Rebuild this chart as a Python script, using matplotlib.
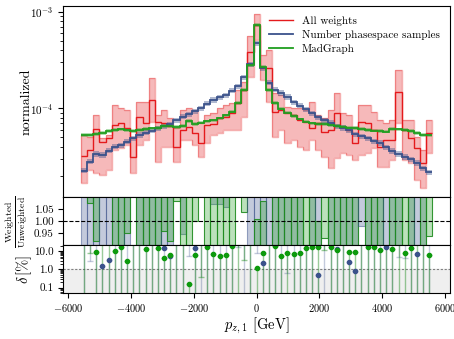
import numpy as np
import matplotlib.pyplot as plt
from matplotlib.ticker import FixedLocator, FormatStrFormatter, NullFormatter

plt.rcParams['font.family'] = 'serif'
plt.rcParams['font.serif'] = ['cmr10']
plt.rcParams['mathtext.fontset'] = 'cm'
plt.rcParams['axes.formatter.use_mathtext'] = True

# binning (57 bins between -5600 and 5600 GeV)
edges = np.linspace(-5600, 5600, 58)
centers = 0.5 * (edges[1:] + edges[:-1])
width = edges[1] - edges[0]

# main panel: normalized distributions
all_weights = [3.21e-5, 3.71e-5, 6.07e-5, 4.51e-5, 4.90e-5, 6.72e-5, 7.00e-5, 6.21e-5, 3.11e-5, 8.19e-5,
               7.00e-5, 1.22e-4, 7.27e-5, 7.00e-5, 6.56e-5, 4.01e-5, 5.97e-5, 6.41e-5, 5.56e-5, 4.38e-5,
               6.72e-5, 6.88e-5, 7.88e-5, 8.19e-5, 8.88e-5, 1.13e-4, 1.55e-4, 3.85e-4, 7.27e-4, 2.59e-4,
               2.59e-4, 9.22e-5, 9.60e-5, 8.88e-5, 8.53e-5, 7.57e-5, 7.27e-5, 6.21e-5, 7.00e-5, 5.73e-5,
               5.97e-5, 8.88e-5, 6.45e-5, 5.97e-5, 4.35e-5, 7.27e-5, 7.00e-5, 5.97e-5, 3.95e-5, 4.70e-5,
               4.70e-5, 1.46e-4, 5.97e-5, 4.90e-5, 3.86e-5, 2.70e-5, 5.60e-5]
all_weights_hi = [5.30e-5, 5.05e-5, 8.53e-5, 4.93e-5, 5.30e-5, 1.08e-4, 1.01e-4, 9.60e-5, 4.93e-5, 1.16e-4,
                  1.16e-4, 2.06e-4, 8.53e-5, 9.60e-5, 7.94e-5, 6.26e-5, 9.60e-5, 1.01e-4, 9.60e-5, 7.05e-5,
                  8.53e-5, 8.94e-5, 1.01e-4, 1.08e-4, 1.13e-4, 1.55e-4, 1.87e-4, 5.59e-4, 9.45e-4, 3.56e-4,
                  4.01e-4, 1.44e-4, 1.37e-4, 1.03e-4, 1.01e-4, 1.01e-4, 9.60e-5, 1.16e-4, 8.53e-5, 7.94e-5,
                  9.60e-5, 1.44e-4, 8.94e-5, 8.53e-5, 6.41e-5, 1.08e-4, 1.08e-4, 9.16e-5, 7.57e-5, 7.05e-5,
                  7.57e-5, 2.49e-4, 7.57e-5, 7.57e-5, 5.05e-5, 3.71e-5, 7.57e-5]
all_weights_lo = [1.70e-5, 2.30e-5, 2.14e-5, 2.04e-5, 2.30e-5, 3.71e-5, 3.89e-5, 4.17e-5, 2.14e-5, 4.17e-5,
                  4.70e-5, 7.22e-5, 2.78e-5, 3.98e-5, 3.98e-5, 2.78e-5, 4.70e-5, 4.70e-5, 4.17e-5, 3.14e-5,
                  4.38e-5, 5.30e-5, 5.56e-5, 5.97e-5, 5.97e-5, 5.97e-5, 8.13e-5, 2.11e-4, 5.09e-4, 1.96e-4,
                  1.16e-4, 5.05e-5, 5.97e-5, 4.38e-5, 4.70e-5, 3.98e-5, 3.71e-5, 4.70e-5, 3.71e-5, 3.14e-5,
                  2.41e-5, 3.06e-5, 3.45e-5, 3.29e-5, 2.92e-5, 3.29e-5, 3.45e-5, 3.89e-5, 2.47e-5, 2.47e-5,
                  2.92e-5, 7.05e-5, 2.92e-5, 2.72e-5, 1.81e-5, 1.50e-5, 3.45e-5]
n_samples = [2.26e-5, 2.80e-5, 3.37e-5, 3.29e-5, 3.64e-5, 4.01e-5, 4.17e-5, 4.51e-5, 4.90e-5, 5.30e-5,
             5.60e-5, 5.87e-5, 6.21e-5, 6.56e-5, 6.88e-5, 7.57e-5, 8.19e-5, 8.73e-5, 9.38e-5, 1.00e-4,
             1.11e-4, 1.22e-4, 1.30e-4, 1.37e-4, 1.52e-4, 1.70e-4, 2.09e-4, 2.87e-4, 4.70e-4, 2.61e-4,
             1.83e-4, 1.55e-4, 1.44e-4, 1.31e-4, 1.16e-4, 1.06e-4, 9.83e-5, 8.94e-5, 8.13e-5, 7.57e-5,
             7.05e-5, 6.56e-5, 6.26e-5, 5.97e-5, 5.42e-5, 5.17e-5, 4.93e-5, 4.59e-5, 4.38e-5, 3.98e-5,
             3.62e-5, 3.37e-5, 3.14e-5, 2.99e-5, 2.72e-5, 2.41e-5, 2.19e-5]
madgraph = [5.30e-5, 5.30e-5, 5.42e-5, 5.56e-5, 5.82e-5, 5.97e-5, 6.04e-5, 5.97e-5, 5.82e-5, 5.97e-5,
            6.11e-5, 6.21e-5, 6.26e-5, 6.56e-5, 6.56e-5, 6.41e-5, 6.56e-5, 7.39e-5, 6.88e-5, 7.10e-5,
            7.30e-5, 7.48e-5, 7.84e-5, 8.43e-5, 9.16e-5, 1.13e-4, 1.55e-4, 2.80e-4, 7.27e-4, 2.67e-4,
            1.55e-4, 1.13e-4, 9.83e-5, 9.01e-5, 8.32e-5, 7.69e-5, 7.27e-5, 7.00e-5, 6.88e-5, 6.88e-5,
            6.72e-5, 6.56e-5, 6.45e-5, 6.30e-5, 6.26e-5, 6.11e-5, 5.97e-5, 5.87e-5, 5.82e-5, 5.73e-5,
            6.11e-5, 6.04e-5, 5.97e-5, 5.82e-5, 5.56e-5, 5.30e-5, 5.30e-5]
rel_unc_samples = 0.06
rel_unc_madgraph = 0.04

# ratio panel: weighted / unweighted bands (nan = no band)
n = np.nan
ratio_blue_lo = [0.8, 0.8, 0.8, 0.8, 0.8, 0.8, 0.8, 0.8, n, 0.8,
                 0.8, 0.8, 0.8, 0.8, 0.8, n, 0.945, n, n, n,
                 n, 1.07, 1.07, 1.06, n, n, n, 0.8, 0.8, 0.8,
                 0.8, 0.8, 0.8, 0.8, 0.8, 0.8, n, 0.8, 0.8, n,
                 0.8, 0.8, 0.8, 0.8, 0.8, 0.98, 0.8, 0.8, 0.8, 0.8,
                 0.8, 0.8, n, 0.8, 0.8, 0.8, n]
ratio_green_lo = [n, 1.075, 0.92, n, n, 0.8, 0.8, 0.95, n, 0.8,
                  0.8, 0.8, 0.8, 0.96, 0.92, 1.085, 0.8, 0.8, 1.0, n,
                  0.8, 0.8, 0.8, 0.8, 0.8, n, 1.04, n, 0.8, 0.8,
                  n, 0.8, 0.8, 0.8, 0.8, 0.8, 0.8, 0.8, 0.8, 0.93,
                  0.8, 0.8, 0.8, 0.8, 0.8, n, 0.8, 0.8, 0.8, n,
                  0.8, 0.8, 0.8, 0.8, n, 0.8, 0.94]
ratio_green_hi = [n, 1.2, 1.2, n, n, 1.2, 1.2, 1.2, n, 1.2,
                  1.2, 1.2, 1.2, 1.2, 1.2, 1.2, 1.2, 1.2, 1.2, n,
                  1.2, 1.2, 1.2, 1.2, 1.2, n, 1.2, n, 1.01, 1.085,
                  n, 1.2, 1.2, 1.2, 1.2, 1.2, 1.2, 1.2, 1.0, 1.2,
                  1.2, 1.2, 1.2, 1.2, 1.2, n, 1.2, 1.2, 1.2, n,
                  1.2, 1.2, 1.2, 1.2, n, 1.2, 1.2]

# relative deviation panel (values above 21 lie outside the panel)
delta_green = [40, 40, 8.9, 40, 40, 10.4, 16.6, 2.9, 40, 40,
               13.4, 40, 15.8, 4.1, 6.3, 40, 40, 0.15, 6.3, 40,
               17.9, 7.1, 5.5, 6.5, 19, 40, 40, 40, 1.26, 7.8,
               40, 19.5, 5.5, 8.4, 7.4, 8.4, 15.8, 17.9, 17.9, 40,
               17.9, 11.8, 40, 9.5, 8.6, 40, 17.9, 16.6, 11.2, 40,
               14, 40, 7.8, 14.6, 40, 40, 6.2]
delta_green_low = [0.01, 7.8, 0.01, 0.01, 0.01, 0.01, 0.01, 0.01, 0.01, 0.01,
                   0.01, 0.01, 0.01, 0.01, 0.01, 0.01, 0.01, 0.01, 0.01, 0.37,
                   0.01, 0.01, 0.01, 0.01, 0.01, 0.01, 3.2, 0.01, 0.01, 0.01,
                   0.01, 0.01, 0.01, 0.01, 0.01, 0.01, 0.01, 0.01, 0.01, 12,
                   0.01, 0.01, 0.01, 0.01, 0.01, 0.01, 0.01, 0.01, 0.01, 0.01,
                   0.01, 0.01, 0.01, 0.01, 0.01, 0.01, 0.01]
delta_blue = [40, 40, 40, 1.5, 3.5, 40, 40, 40, 40, 40,
              40, 40, 40, 14.6, 5.7, 40, 40, 40, 14.6, 40,
              40, 40, 40, 40, 40, 40, 40, 40, 40, 2.35,
              40, 40, 40, 40, 40, 40, 40, 40, 0.52, 40,
              40, 14, 40, 2.45, 0.85, 40, 40, 40, 40, 16.6,
              40, 40, 40, 40, 7.5, 40, 40]
delta_blue_low = [0.01, 2.9, 0.01, 0.01, 0.01, 0.01, 0.01, 0.01, 0.01, 0.01,
                  0.01, 0.01, 0.01, 0.01, 0.01, 0.01, 0.01, 5.7, 0.01, 0.01,
                  0.01, 0.01, 0.01, 0.01, 0.01, 16.6, 0.01, 0.01, 7.8, 0.01,
                  0.01, 0.01, 0.01, 0.67, 0.01, 0.01, 0.01, 0.01, 0.01, 0.01,
                  0.01, 0.01, 0.01, 0.01, 0.01, 0.01, 0.01, 0.01, 0.01, 0.01,
                  0.01, 5.0, 4.1, 0.01, 0.01, 0.01, 0.01]

red = '#e41a1c'
blue = '#3b528b'
green = '#1f9e1f'

fig = plt.figure(figsize=(4.54, 3.39), dpi=100)
ax = fig.add_axes([0.1394, 0.418, 0.8518, 0.5652])
axr = fig.add_axes([0.1394, 0.2764, 0.8518, 0.1416], sharex=ax)
axd = fig.add_axes([0.1394, 0.1348, 0.8518, 0.1416], sharex=ax)

# main panel
ns = np.array(n_samples)
mg = np.array(madgraph)
ax.stairs(all_weights_hi, edges, baseline=all_weights_lo, fill=True,
          facecolor=red, alpha=0.3)
ax.stairs(all_weights_hi, edges, baseline=all_weights_lo, color=red, alpha=0.35, lw=1)
ax.stairs(ns * (1 + rel_unc_samples), edges, baseline=ns * (1 - rel_unc_samples),
          fill=True, color=blue, alpha=0.4, lw=0)
ax.stairs(mg * (1 + rel_unc_madgraph), edges, baseline=mg * (1 - rel_unc_madgraph),
          fill=True, color=green, alpha=0.35, lw=0)
ax.stairs(all_weights, edges, baseline=None, color=red, lw=1, label='All weights')
ax.stairs(n_samples, edges, baseline=None, color=blue, lw=1.3,
          label='Number phasespace samples')
ax.stairs(madgraph, edges, baseline=None, color=green, lw=1.3, label='MadGraph')
ax.set_yscale('log')
ax.set_ylim(1.2e-5, 1.15e-3)
ax.set_xlim(-6160, 6160)
ax.set_ylabel('normalized', fontsize=10)
ax.yaxis.set_label_coords(-0.08, 0.5)
ax.tick_params(axis='x', which='both', bottom=False, labelbottom=False)
ax.tick_params(axis='y', labelsize=8)
ax.legend(loc='upper right', frameon=False, fontsize=8, handlelength=2.2,
          borderaxespad=0.5, labelspacing=0.35)

# ratio panel
for i in range(len(centers)):
    if not np.isnan(ratio_blue_lo[i]):
        axr.bar(edges[i], 1.2 - ratio_blue_lo[i], bottom=ratio_blue_lo[i], width=width,
                align='edge', facecolor=(0.231, 0.322, 0.545, 0.3),
                edgecolor=(0.231, 0.322, 0.545, 0.5), lw=0.8)
    if not np.isnan(ratio_green_lo[i]):
        axr.bar(edges[i], ratio_green_hi[i] - ratio_green_lo[i], bottom=ratio_green_lo[i],
                width=width, align='edge', facecolor=(0.12, 0.62, 0.12, 0.3),
                edgecolor=(0.12, 0.55, 0.12, 0.9), lw=0.8)
axr.axhline(1.0, color='black', ls='--', lw=0.8)
axr.set_ylim(0.9, 1.1)
axr.set_yticks([0.95, 1.0, 1.05])
axr.yaxis.set_major_formatter(FormatStrFormatter('%.2f'))
axr.tick_params(axis='x', which='both', bottom=False, labelbottom=False)
axr.tick_params(axis='y', labelsize=8)
axr.set_ylabel(r'$\frac{\mathrm{Weighted}}{\mathrm{Unweighted}}$', fontsize=10)
axr.yaxis.set_label_coords(-0.085, 0.5)

# relative deviation panel
axd.axhspan(1e-3, 1.0, color='#efefef', zorder=0)
axd.axhline(1.0, color='gray', ls=(0, (2, 1.5)), lw=0.8)
dg = np.array(delta_green)
db = np.array(delta_blue)
axd.errorbar(centers, db, yerr=[db - np.array(delta_blue_low), np.zeros_like(db)],
             fmt='o', ms=3, color=blue, ecolor=(0.231, 0.322, 0.545, 0.3),
             elinewidth=1, capsize=2)
axd.errorbar(centers, dg, yerr=[dg - np.array(delta_green_low), np.zeros_like(dg)],
             fmt='o', ms=3, color='#0d9a0d', ecolor=(0.12, 0.55, 0.12, 0.45),
             elinewidth=1, capsize=2)
axd.set_yscale('log')
axd.set_ylim(0.048, 21.3)
axd.yaxis.set_major_locator(FixedLocator([0.1, 1.0, 10.0]))
axd.yaxis.set_major_formatter(FormatStrFormatter('%.1f'))
axd.yaxis.set_minor_formatter(NullFormatter())
axd.tick_params(axis='y', labelsize=8)
axd.tick_params(axis='x', labelsize=7.5, pad=2.5)
axd.set_ylabel(r'$\delta\,[\%]$', fontsize=10.5)
axd.yaxis.set_label_coords(-0.075, 0.5)
axd.set_xticks([-6000, -4000, -2000, 0, 2000, 4000, 6000])
axd.set_xlabel(r'$p_{z,1}$ [GeV]', fontsize=10.5, labelpad=2)

fig.savefig('out.png', dpi=100)
